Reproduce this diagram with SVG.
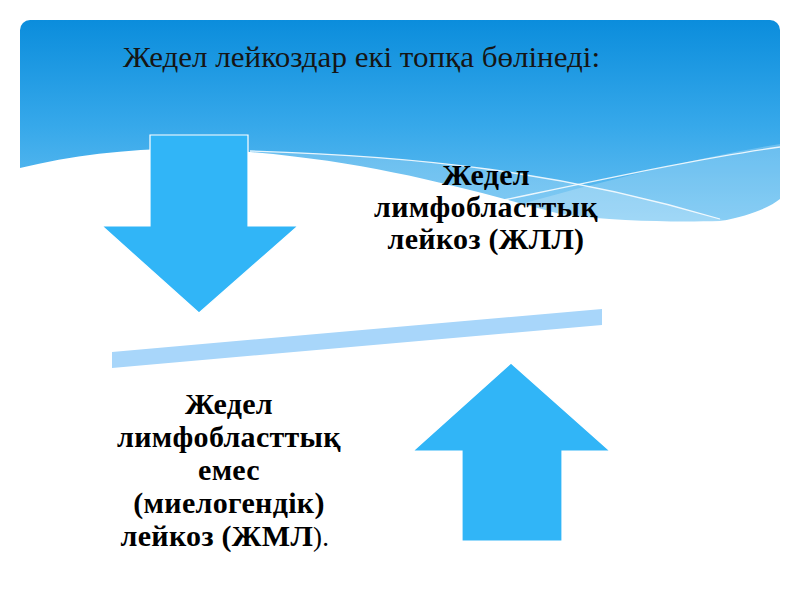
<svg xmlns="http://www.w3.org/2000/svg" width="800" height="600" viewBox="0 0 800 600">
<defs>
<linearGradient id="sky" x1="0" y1="20" x2="0" y2="230" gradientUnits="userSpaceOnUse">
<stop offset="0" stop-color="#0b8ddc"/>
<stop offset="0.5" stop-color="#36a8ea"/>
<stop offset="1" stop-color="#6cc2f2"/>
</linearGradient>
<clipPath id="slide"><rect x="20" y="20" width="760" height="560" rx="10"/></clipPath>
<style>
.arrow{fill:#31b5f7;stroke:#ffffff;stroke-width:1.2}
.lbl{font-family:"Liberation Serif","Times New Roman",serif;font-weight:bold;font-size:30px;letter-spacing:0.3px;fill:#000;text-anchor:middle}
.title{font-family:"Liberation Serif","Times New Roman",serif;font-size:29px;fill:#151515}
.wl{fill:none;stroke:#ffffff;stroke-width:1.3;opacity:0.85}
</style>
</defs>
<rect width="800" height="600" fill="#ffffff"/>
<g id="background" clip-path="url(#slide)">
<rect x="20" y="20" width="760" height="220" fill="url(#sky)"/>
<path d="M400,240 C 540,196 680,160 780,144 L780,240 Z" fill="#ffffff" opacity="0.22"/>
<path d="M250,151 C 420,156 560,172 720,219 L780,240 L250,240 Z" fill="#ffffff" opacity="0.2"/>
<path d="M20,168 C 90,151 170,144 250,152 C 380,163 470,190 560,214 C 620,222 680,222 720,221 C 750,216 770,207 780,199 L780,600 L20,600 Z" fill="#ffffff"/>
<path class="wl" d="M250,151 C 420,156 560,172 720,219"/>
<path class="wl" d="M480,205 C 600,180 700,158 780,147"/>
</g>
<text class="title" x="123" y="67" textLength="477" lengthAdjust="spacingAndGlyphs">Жедел лейкоздар екі топқа бөлінеді:</text>
<g id="arrow-down">
<path class="arrow" d="M150,135 L248,135 L248,226 L298,226 L199,313 L102,226 L150,226 Z"/>
</g>
<g id="arrow-up">
<path class="arrow" d="M511,363 L610,451 L562,451 L562,541 L462,541 L462,451 L413,451 Z"/>
</g>
<g id="divider">
<path d="M112,352 L602,309 L602,325 L112,368 Z" fill="#a8d6fa"/>
</g>
<g id="node-jll">
<text class="lbl" x="486" y="185">Жедел</text>
<text class="lbl" x="486" y="217">лимфобласттық</text>
<text class="lbl" x="486" y="249">лейкоз (ЖЛЛ)</text>
</g>
<g id="node-jml">
<text class="lbl" x="229" y="414">Жедел</text>
<text class="lbl" x="229" y="447">лимфобласттық</text>
<text class="lbl" x="229" y="480">емес</text>
<text class="lbl" x="229" y="513">(миелогендік)</text>
<text class="lbl" x="225" y="546">лейкоз (ЖМЛ<tspan font-weight="normal" font-size="27">).</tspan></text>
</g>
</svg>
